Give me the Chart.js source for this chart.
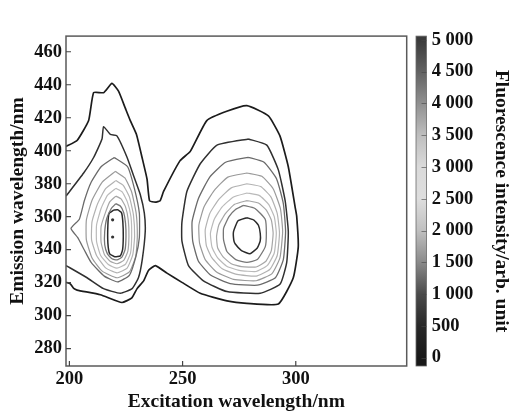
<!DOCTYPE html>
<html><head><meta charset="utf-8">
<script src="https://cdn.jsdelivr.net/npm/chart.js@4/dist/chart.umd.min.js"></script>
<style>html,body{margin:0;padding:0;background:#fff}#wrap{width:510px;height:414px}</style>
</head><body><div id="wrap"><canvas id="c" width="510" height="414"></canvas></div>
<script>
// ---- data ----
const xTicks = [200, 250, 300];
const yTicks = [280, 300, 320, 340, 360, 380, 400, 420, 440, 460];
const cbTicks = [0, 500, 1000, 1500, 2000, 2500, 3000, 3500, 4000, 4500, 5000];
const levels = [500, 1000, 1500, 2000, 2500, 3000, 3500, 4000, 4500];

// contour 500 (open, touches left edge)
const c500 = [[198.5,402.6],[203.4,406.2],[208.5,418.3],[210.7,435.2],[215.1,435.2],[218.8,440.8],[221.7,436.1],[224.7,425.8],[226.9,418.3],[229.6,410],[232.1,395.9],[234.3,382.8],[235.4,369.7],[237.9,368.8],[240.1,369.7],[241.6,375.3],[248.9,394],[253.4,399.6],[260.7,418.3],[269.5,423.9],[278.4,427.3],[287.9,421.1],[293,409],[296.7,390.3],[299.7,366],[300.4,360.4],[301.1,341.7],[298.9,323],[292.3,307.1],[278.4,307.5],[269.6,309],[257.8,313.6],[249.7,320.2],[243.1,325.8],[238,330.4],[235,327.6],[232.8,321.1],[229.9,316.4],[227.6,310.8],[223.2,308],[213.7,312.7],[203.4,315.5],[201.9,316.5],[200.4,319.3],[198.5,320.3]];
// contour 1000
const c1000L = [[198.5,372.5],[206.3,386.5],[210.7,395.9],[214.4,407.1],[215.1,414.6],[218.1,409.9],[221,409],[225.5,395.9],[228.4,384.7],[231.3,373.5],[233.1,362.2],[233.5,351],[232.2,334.2],[230.5,323],[227.7,316.4],[222.5,313.6],[215.1,316.4],[207.8,323],[198.5,330.4]];
const c1000R = [[279.1,407.1],[287.2,403.4],[292.3,388.4],[295.3,369.7],[296.7,351],[296,332.3],[293.1,319.2],[284.3,313.6],[269.6,314.6],[259.2,321.1],[252.6,330.4],[249.7,345.4],[249.7,356.6],[251.9,375.3],[257.8,392.1],[265.2,403.4]];
// contour 1500
const c1500L = [[219.8,395.9],[214,390.3],[209.6,380.9],[206.6,369.7],[204.4,358.5],[200.7,352.9],[203.7,347.3],[206.6,339.8],[209.6,332.3],[215.4,324],[221.3,320.5],[226.5,324.5],[229.4,336],[230.9,347.3],[230.9,362.2],[228.7,377.2],[225.7,390.3]];
const c1500R = [[279,396],[269,393],[262,384],[257,371],[254.2,357],[254.5,345],[257,333],[262.5,324.5],[271,319.5],[283,318.5],[291,323],[294.5,334],[295.5,351],[294.5,368],[291.5,383],[286,393]];
// contour 2000
const c2000L = [[220.3,387.5],[214.5,381],[210,370],[207.5,358],[207.5,346],[210,335],[214.5,327],[221,323],[226.5,326.5],[229.3,336],[230,348],[229.5,362],[227.5,375],[224.5,383.5]];
const c2000R = [[278.5,386.5],[270,384],[264,376],[259.5,366],[257.2,355],[257.5,344],[260,334],[265,326.5],[272.5,322],[282.5,321.2],[289.5,325.5],[293,335],[294.2,351],[293.2,365],[290,377],[285,384.5]];
// contour 2500
const c2500L = [[220.5,381.9],[216,377],[212.5,368],[210,357],[209.8,346],[212,336.5],[216,329],[221,326],[225.5,328.8],[228,337],[228.8,348],[228.3,361],[226.5,372],[223.8,379]];
const c2500R = [[278.5,380],[271.5,377.5],[266,370.5],[262,362],[260,352],[260.5,342.5],[263,335],[267.5,328.5],[274,325],[282.5,324],[288.5,328],[291.8,336.5],[292.8,350],[291.8,362],[289,372],[284.5,378.3]];
// contour 3000
const c3000L = [[220.5,377.2],[216.8,373],[214,365],[212,355],[212,345],[213.8,336.5],[217.2,331],[221,328.8],[224.8,331.2],[227,338],[227.5,348],[227.2,360],[225.6,369],[223.3,375]];
const c3000R = [[278.5,374.4],[272.5,372],[267.5,366],[264,358.5],[262.3,350],[263,341.5],[265.5,335],[269.5,330],[275,327.5],[282.5,326.8],[287.5,330.5],[290.5,338],[291.4,350],[290.5,360],[288,367.5],[284,372.8]];
// contour 3500
const c3500L = [[220.5,372.5],[217.8,369],[215.8,362],[214,354],[214,344.5],[215.5,337],[218,333],[221,331.5],[224,333.5],[225.8,339],[226.3,348],[226,358],[224.8,366],[222.8,370.8]];
const c3500R = [[278.5,369.8],[273,367.5],[269,362],[266,355],[265,348],[265.5,341],[268,335.5],[271.5,331.5],[276,329.7],[282.5,329.5],[286.8,333],[289.2,339.5],[290,350],[289.2,358],[287,364],[283.5,368.3]];
// contour 4000
const c4000L = [[220.5,367.9],[218.5,365],[216.5,359],[215.6,351],[215.6,343],[216.8,337.5],[218.8,334.5],[221,333.8],[223.2,335.5],[224.6,340],[225,348],[224.8,356],[224,362.5],[222.5,366.5]];
const c4000R = [[276.9,366.9],[282,365],[286.5,358.5],[287,350],[286.5,341.7],[283,334],[278.4,332.3],[273.5,334],[269.6,338.9],[268.1,346],[268.1,352.9],[270.5,360],[273.5,364.5]];
// contour 4500
const c4500L = [[219.5,364],[217.5,362],[217,355],[217,344],[217.8,337.5],[220,335.8],[222.5,336.3],[223.5,340],[223.8,348],[223.6,357],[223,362.5],[221.3,364.2]];
const c4500R = [[278.4,359.4],[274.5,357.5],[272.5,351],[272.6,346],[273.2,343.6],[276,339.5],[279.8,337.6],[283,341],[284.3,345.4],[284.3,350],[283.5,354.8],[281.5,358]];
// local maxima marks
const peakDots = [[219.1,358.1],[219.1,347.7]];

// ---- styles ----
const lineColor = {500:'#1c1c1c',1000:'#303030',1500:'#6a6a6a',2000:'#9a9a9a',2500:'#b2b2b2',3000:'#bababa',3500:'#a6a6a6',4000:'#767676',4500:'#2a2a2a'};
const lineWidth = {500:1.7,1000:1.5,1500:1.3,2000:1.2,2500:1.2,3000:1.2,3500:1.2,4000:1.3,4500:1.5};
const cmapStops = [[0,'#181818'],[500,'#282828'],[1000,'#4a4a4a'],[1500,'#8a8a8a'],[2000,'#c0c0c0'],[2500,'#dedede'],[3000,'#dadada'],[3500,'#bebebe'],[4000,'#909090'],[4500,'#626262'],[5000,'#3a3a3a']];

const contours = [
  {level:500, pts:c500, closed:false},
  {level:1000, pts:c1000L, closed:false},{level:1000, pts:c1000R, closed:true},
  {level:1500, pts:c1500L, closed:true},{level:1500, pts:c1500R, closed:true},
  {level:2000, pts:c2000L, closed:true},{level:2000, pts:c2000R, closed:true},
  {level:2500, pts:c2500L, closed:true},{level:2500, pts:c2500R, closed:true},
  {level:3000, pts:c3000L, closed:true},{level:3000, pts:c3000R, closed:true},
  {level:3500, pts:c3500L, closed:true},{level:3500, pts:c3500R, closed:true},
  {level:4000, pts:c4000L, closed:true},{level:4000, pts:c4000R, closed:true},
  {level:4500, pts:c4500L, closed:true},{level:4500, pts:c4500R, closed:true}
];

const datasets = contours.map(c => {
  const pts = c.closed ? c.pts.concat([c.pts[0]]) : c.pts;
  return {
    data: pts.map(([x,y]) => ({x, y})),
    showLine: true, pointRadius: 0, borderColor: lineColor[c.level],
    borderWidth: lineWidth[c.level], tension: 0.15, fill: false
  };
});
datasets.push({data: peakDots.map(([x,y]) => ({x,y})), showLine:false, pointRadius:1.6, pointBorderWidth:0, backgroundColor:'#333', borderColor:'#333'});

const TICKFONT = {family:"'Liberation Serif','Times New Roman',serif", size:18.5, weight:'bold'};
const TITLEFONT = {family:"'Liberation Serif','Times New Roman',serif", size:19.5, weight:'bold'};
const fmt = v => v >= 1000 ? Math.floor(v/1000) + ' ' + String(v % 1000).padStart(3,'0') : String(v);

const decor = {
  id:'decor',
  afterDatasetsDraw(chart){
    const {ctx, chartArea:a, scales} = chart;
    ctx.save();
    ctx.strokeStyle = '#5a5a5a'; ctx.lineWidth = 1.5;
    ctx.strokeRect(a.left, a.top, a.right - a.left, a.bottom - a.top);
    ctx.lineWidth = 1.2; ctx.strokeStyle = '#444';
    ctx.beginPath();
    xTicks.forEach(v => { const p = scales.x.getPixelForValue(v); ctx.moveTo(p, a.bottom); ctx.lineTo(p, a.bottom - 5); });
    yTicks.forEach(v => { const p = scales.y.getPixelForValue(v); ctx.moveTo(a.left, p); ctx.lineTo(a.left + 5, p); });
    ctx.stroke();
    // colour bar
    const cb = scales.cb;
    const x0 = 416, x1 = 426.5;
    const g = ctx.createLinearGradient(0, cb.getPixelForValue(0), 0, cb.getPixelForValue(5000));
    cmapStops.forEach(([v,c]) => g.addColorStop(v/5000, c));
    ctx.fillStyle = g;
    ctx.fillRect(x0, a.top, x1 - x0, a.bottom - a.top);
    ctx.strokeStyle = '#6a6a6a'; ctx.lineWidth = 0.8;
    ctx.strokeRect(x0, a.top, x1 - x0, a.bottom - a.top);
    ctx.strokeStyle = 'rgba(70,70,70,0.6)'; ctx.lineWidth = 1;
    ctx.beginPath();
    cbTicks.forEach(v => { const p = Math.round(cb.getPixelForValue(v)) + 0.5; ctx.moveTo(x1 - 5, p); ctx.lineTo(x1, p); });
    ctx.stroke();
    ctx.restore();
  }
};

new Chart(document.getElementById('c'), {
  type: 'scatter',
  data: {datasets},
  options: {
    responsive: false, animation: false, devicePixelRatio: 1,
    layout: {padding: {top: 9, left: 0, right: 0, bottom: 0}},
    plugins: {legend: {display: false}, tooltip: {enabled: false}},
    scales: {
      x: {
        type: 'linear', position: 'bottom', min: 198.5, max: 349,
        afterBuildTicks: s => { s.ticks = xTicks.map(v => ({value: v})); },
        afterFit: s => { s.height = 48; },
        grid: {display: false, drawTicks: false}, border: {display: false},
        ticks: {font: TICKFONT, color: '#111', padding: 2, maxRotation: 0, autoSkip: false},
        title: {display: true, text: 'Excitation wavelength/nm', font: TITLEFONT, color: '#111', padding: {top: 0, bottom: 0}}
      },
      y: {
        type: 'linear', position: 'left', min: 269.5, max: 469.5,
        afterBuildTicks: s => { s.ticks = yTicks.map(v => ({value: v})); },
        afterFit: s => { s.width = 66; },
        grid: {display: false, drawTicks: false}, border: {display: false},
        ticks: {font: TICKFONT, color: '#111', padding: 4, autoSkip: false},
        title: {display: true, text: 'Emission wavelength/nm', font: TITLEFONT, color: '#111', padding: {top: 6, bottom: 0}}
      },
      cb: {
        type: 'linear', position: 'right', min: -131, max: 5058,
        afterBuildTicks: s => { s.ticks = cbTicks.map(v => ({value: v})); },
        afterFit: s => { s.width = 103.3; },
        grid: {display: false, drawTicks: false}, border: {display: false},
        ticks: {font: TICKFONT, color: '#111', padding: 25, autoSkip: false, callback: v => fmt(v)},
        title: {display: true, text: 'Fluorescence intensity/arb. unit', font: TITLEFONT, color: '#111', padding: {top: -3, bottom: 0}}
      }
    }
  },
  plugins: [decor]
});
</script></body></html>
